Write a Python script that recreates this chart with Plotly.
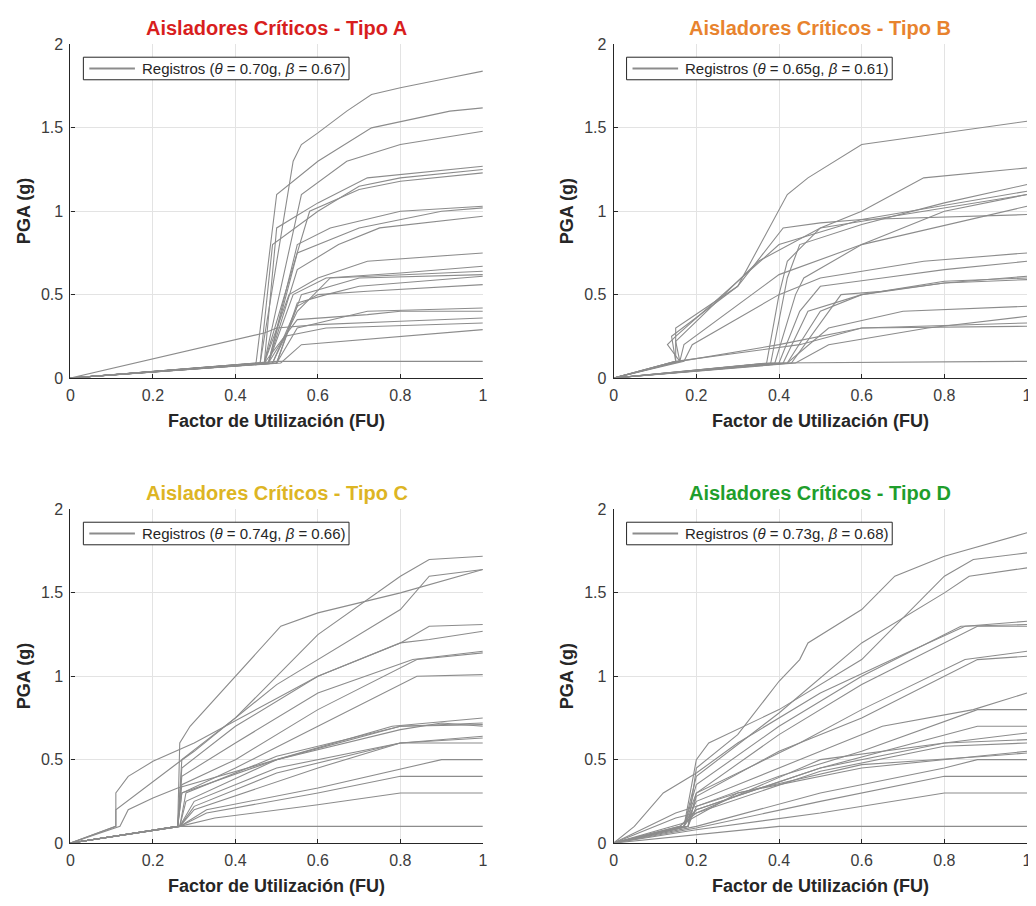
import plotly.graph_objects as go

W, H = 1036, 906
OFF = 8                      # default page (body) margin of the html page
FW, FH = W - OFF, H - OFF    # figure size so that it fits the window exactly

# ---------------- data ----------------
PANEL_TITLES = ["Aisladores Críticos - Tipo A", "Aisladores Críticos - Tipo B",
                "Aisladores Críticos - Tipo C", "Aisladores Críticos - Tipo D"]
TITLE_COLORS = ["#D81E1E", "#E8832E", "#DDB524", "#1F9E2C"]
THETA = ["0.70", "0.65", "0.74", "0.73"]
BETA = ["0.67", "0.61", "0.66", "0.68"]
X_TICKS = [0, 0.2, 0.4, 0.6, 0.8, 1]
Y_TICKS = [0, 0.5, 1, 1.5, 2]

A_X = [
    [0, 0.46, 0.54, 0.56, 0.60, 0.67, 0.73, 0.80, 0.92, 1],
    [0, 0.45, 0.50, 0.60, 0.73, 0.92, 1],
    [0, 0.47, 0.56, 0.67, 0.80, 1],
    [0, 0.47, 0.50, 0.60, 0.72, 1],
    [0, 0.46, 0.49, 0.60, 0.70, 0.80, 1],
    [0, 0.47, 0.58, 0.70, 0.80, 1],
    [0, 0.48, 0.55, 0.63, 0.80, 1],
    [0, 0.48, 0.55, 0.70, 0.90, 1],
    [0, 0.48, 0.55, 0.65, 0.75, 1],
    [0, 0.47, 0.53, 0.60, 0.72, 1],
    [0, 0.48, 0.54, 0.62, 0.80, 1],
    [0, 0.49, 0.55, 0.63, 1],
    [0, 0.50, 0.56, 0.70, 1],
    [0, 0.50, 0.55, 0.62, 0.70, 1],
    [0, 0.49, 0.55, 0.60, 0.72, 1],
    [0, 0.50, 0.55, 0.72, 1],
    [0, 0.47, 0.55, 0.72, 0.80, 1],
    [0, 0.47, 0.50, 0.60, 0.80, 1],
    [0, 0.51, 0.56, 0.80, 1],
    [0, 0.45, 0.50, 1],
    [0, 0.48, 0.52, 0.62, 1],
]
A_Y = [
    [0, 0.09, 1.30, 1.40, 1.47, 1.60, 1.70, 1.74, 1.80, 1.84],
    [0, 0.09, 1.10, 1.30, 1.50, 1.60, 1.62],
    [0, 0.09, 1.10, 1.30, 1.40, 1.48],
    [0, 0.09, 0.90, 1.05, 1.20, 1.27],
    [0, 0.09, 0.80, 1.00, 1.15, 1.20, 1.25],
    [0, 0.09, 1.00, 1.13, 1.18, 1.23],
    [0, 0.09, 0.80, 0.90, 1.00, 1.03],
    [0, 0.09, 0.75, 0.90, 1.00, 1.02],
    [0, 0.09, 0.65, 0.80, 0.90, 0.97],
    [0, 0.09, 0.50, 0.60, 0.70, 0.75],
    [0, 0.09, 0.50, 0.60, 0.63, 0.67],
    [0, 0.09, 0.40, 0.60, 0.64],
    [0, 0.09, 0.50, 0.60, 0.62],
    [0, 0.09, 0.45, 0.50, 0.55, 0.61],
    [0, 0.09, 0.43, 0.50, 0.52, 0.56],
    [0, 0.09, 0.30, 0.40, 0.42],
    [0, 0.09, 0.35, 0.38, 0.40, 0.40],
    [0, 0.27, 0.30, 0.32, 0.34, 0.36],
    [0, 0.09, 0.20, 0.25, 0.29],
    [0, 0.09, 0.10, 0.10],
    [0, 0.09, 0.25, 0.30, 0.33],
]

B_X = [
    [0, 0.15, 0.15, 0.30, 0.42, 0.47, 0.60, 1],
    [0, 0.15, 0.14, 0.30, 0.41, 0.50, 0.60, 1],
    [0, 0.16, 0.15, 0.35, 0.50, 0.75, 1],
    [0, 0.16, 0.13, 0.15, 0.40, 0.60, 1],
    [0, 0.17, 0.19, 0.40, 0.50, 0.75, 1],
    [0, 0.16, 0.17, 0.40, 0.60, 1],
    [0, 0.37, 0.40, 0.42, 0.50, 0.60, 0.75, 1],
    [0, 0.38, 0.42, 0.45, 0.60, 0.80, 1],
    [0, 0.39, 0.44, 0.46, 0.60, 0.80, 1],
    [0, 0.40, 0.45, 0.50, 0.65, 0.80, 1],
    [0, 0.41, 0.47, 0.60, 0.80, 1],
    [0, 0.42, 0.50, 0.60, 0.80, 1],
    [0, 0.43, 0.55, 0.65, 0.80, 1],
    [0, 0.42, 0.52, 0.70, 1],
    [0, 0.16, 0.40, 0.60, 1],
    [0, 0.15, 0.45, 0.60, 1],
    [0, 0.44, 0.52, 0.76, 1],
    [0, 0.38, 1],
]
B_Y = [
    [0, 0.10, 0.30, 0.55, 1.10, 1.20, 1.40, 1.54],
    [0, 0.10, 0.25, 0.55, 0.90, 0.93, 0.95, 0.98],
    [0, 0.10, 0.22, 0.70, 0.90, 1.00, 1.10],
    [0, 0.10, 0.20, 0.25, 0.80, 0.95, 1.12],
    [0, 0.10, 0.20, 0.50, 0.60, 0.70, 0.75],
    [0, 0.10, 0.20, 0.62, 0.80, 1.03],
    [0, 0.09, 0.50, 0.70, 0.90, 1.00, 1.20, 1.26],
    [0, 0.09, 0.60, 0.80, 0.92, 1.05, 1.16],
    [0, 0.09, 0.50, 0.60, 0.80, 1.00, 1.10],
    [0, 0.09, 0.40, 0.55, 0.60, 0.65, 0.70],
    [0, 0.09, 0.40, 0.50, 0.57, 0.61],
    [0, 0.09, 0.40, 0.50, 0.58, 0.60],
    [0, 0.09, 0.50, 0.52, 0.57, 0.59],
    [0, 0.09, 0.30, 0.40, 0.43],
    [0, 0.10, 0.20, 0.30, 0.33],
    [0, 0.10, 0.20, 0.30, 0.31],
    [0, 0.09, 0.20, 0.30, 0.37],
    [0, 0.09, 0.10],
]

C_X = [
    [0, 0.11, 0.11, 0.14, 0.20, 0.30, 0.60, 0.80, 0.87, 1],
    [0, 0.11, 0.11, 0.20, 0.26, 0.30, 0.50, 0.80, 0.87, 1],
    [0, 0.12, 0.14, 0.20, 0.26, 0.50, 0.80, 1],
    [0, 0.26, 0.265, 0.29, 0.51, 0.60, 0.80, 0.87, 1],
    [0, 0.26, 0.27, 0.40, 0.60, 0.80, 0.87, 1],
    [0, 0.26, 0.27, 0.40, 0.60, 0.80, 0.87, 1],
    [0, 0.26, 0.27, 0.40, 0.60, 0.83, 1],
    [0, 0.26, 0.27, 0.40, 0.60, 0.84, 1],
    [0, 0.26, 0.27, 0.40, 0.60, 0.80, 0.84, 1],
    [0, 0.26, 0.27, 0.50, 0.78, 1],
    [0, 0.265, 0.28, 0.50, 0.80, 0.90, 1],
    [0, 0.265, 0.30, 0.50, 0.80, 1],
    [0, 0.265, 0.30, 0.50, 0.80, 1],
    [0, 0.265, 0.30, 0.60, 0.80, 1],
    [0, 0.265, 0.33, 0.60, 0.90, 1],
    [0, 0.265, 0.33, 0.60, 0.80, 1],
    [0, 0.265, 0.35, 0.60, 0.80, 1],
    [0, 0.26, 1],
    [0, 0.265, 0.28, 0.50, 0.80, 1],
]
C_Y = [
    [0, 0.10, 0.30, 0.40, 0.49, 0.60, 1.00, 1.20, 1.30, 1.31],
    [0, 0.10, 0.20, 0.37, 0.48, 0.55, 0.95, 1.40, 1.60, 1.64],
    [0, 0.10, 0.20, 0.27, 0.33, 0.50, 0.70, 0.72],
    [0, 0.10, 0.60, 0.70, 1.30, 1.38, 1.50, 1.55, 1.64],
    [0, 0.10, 0.50, 0.75, 1.25, 1.60, 1.70, 1.72],
    [0, 0.10, 0.45, 0.70, 1.00, 1.20, 1.22, 1.27],
    [0, 0.10, 0.40, 0.60, 0.90, 1.10, 1.15],
    [0, 0.10, 0.35, 0.50, 0.80, 1.10, 1.14],
    [0, 0.10, 0.30, 0.45, 0.70, 0.95, 1.00, 1.01],
    [0, 0.10, 0.30, 0.50, 0.70, 0.75],
    [0, 0.10, 0.25, 0.50, 0.68, 0.72, 0.70],
    [0, 0.10, 0.25, 0.45, 0.60, 0.64],
    [0, 0.10, 0.22, 0.42, 0.60, 0.63],
    [0, 0.10, 0.20, 0.45, 0.60, 0.60],
    [0, 0.10, 0.20, 0.33, 0.50, 0.50],
    [0, 0.10, 0.18, 0.30, 0.40, 0.40],
    [0, 0.10, 0.15, 0.23, 0.30, 0.30],
    [0, 0.10, 0.10],
    [0, 0.10, 0.30, 0.52, 0.70, 0.71],
]

D_X = [
    [0, 0.18, 0.20, 0.30, 0.40, 0.45, 0.47, 0.60, 0.68, 0.80, 1],
    [0, 0.17, 0.20, 0.23, 0.40, 0.60, 0.80, 0.87, 1],
    [0, 0.17, 0.20, 0.40, 0.60, 0.80, 0.86, 1],
    [0, 0.05, 0.12, 0.20, 0.30, 0.50, 0.70, 0.85, 1],
    [0, 0.17, 0.20, 0.40, 0.60, 0.84, 1],
    [0, 0.17, 0.20, 0.40, 0.60, 0.88, 1],
    [0, 0.18, 0.20, 0.45, 0.60, 0.85, 1],
    [0, 0.18, 0.20, 0.40, 0.60, 0.88, 1],
    [0, 0.17, 0.20, 0.40, 0.65, 0.87, 1],
    [0, 0.18, 0.20, 0.40, 0.60, 0.88, 1],
    [0, 0.17, 0.20, 0.50, 0.88, 1],
    [0, 0.16, 0.20, 0.50, 0.80, 1],
    [0, 0.16, 0.20, 0.50, 0.80, 1],
    [0, 0.15, 0.20, 0.50, 0.80, 1],
    [0, 0.17, 0.30, 0.60, 0.88, 1],
    [0, 0.15, 0.30, 0.60, 0.90, 1],
    [0, 0.20, 0.50, 0.80, 0.88, 1],
    [0, 0.20, 0.50, 0.80, 1],
    [0, 0.20, 0.50, 0.80, 1],
    [0, 0.20, 0.40, 1],
]
D_Y = [
    [0, 0.10, 0.45, 0.65, 0.97, 1.10, 1.20, 1.40, 1.60, 1.72, 1.86],
    [0, 0.10, 0.50, 0.60, 0.80, 1.10, 1.60, 1.70, 1.74],
    [0, 0.10, 0.40, 0.78, 1.20, 1.50, 1.60, 1.65],
    [0, 0.10, 0.30, 0.42, 0.60, 0.90, 1.13, 1.30, 1.33],
    [0, 0.10, 0.35, 0.70, 1.00, 1.30, 1.31],
    [0, 0.10, 0.30, 0.65, 0.95, 1.30, 1.30],
    [0, 0.10, 0.30, 0.60, 0.80, 1.10, 1.15],
    [0, 0.10, 0.28, 0.55, 0.75, 1.10, 1.12],
    [0, 0.10, 0.25, 0.45, 0.70, 0.80, 0.90],
    [0, 0.10, 0.22, 0.40, 0.55, 0.80, 0.80],
    [0, 0.10, 0.20, 0.45, 0.70, 0.70],
    [0, 0.10, 0.20, 0.45, 0.60, 0.66],
    [0, 0.10, 0.18, 0.50, 0.60, 0.62],
    [0, 0.15, 0.18, 0.43, 0.58, 0.60],
    [0, 0.12, 0.30, 0.45, 0.52, 0.55],
    [0, 0.18, 0.30, 0.47, 0.52, 0.54],
    [0, 0.10, 0.30, 0.45, 0.50, 0.50],
    [0, 0.09, 0.25, 0.40, 0.40],
    [0, 0.08, 0.18, 0.30, 0.30],
    [0, 0.05, 0.10, 0.10],
]

PANELS = [(A_X, A_Y), (B_X, B_Y), (C_X, C_Y), (D_X, D_Y)]

# ---------------- layout geometry (window pixels) ----------------
PLOT_LEFT = [67, 615, 67, 615]
PLOT_RIGHT = [483, 1032, 483, 1032]
PLOT_TOP = [37, 37, 511, 511]
PLOT_BOTTOM = [377, 377, 851, 851]


def fx(px):
    return (px - OFF) / FW


def fy(py):
    return 1 - (py - OFF) / FH


LINE_COLOR = "#8c8c8c"
AX_COLOR = "#262626"
FONT = "Liberation Sans, Arial, Helvetica, sans-serif"

fig = go.Figure()
layout = dict(
    width=FW, height=FH, margin=dict(l=0, r=0, t=0, b=0),
    paper_bgcolor="white", plot_bgcolor="white",
    font=dict(family=FONT, color=AX_COLOR),
    showlegend=False,
)
annotations = []
shapes = []

for i, (xs, ys) in enumerate(PANELS):
    k = i + 1
    xa = "x" if k == 1 else f"x{k}"
    ya = "y" if k == 1 else f"y{k}"
    label = f"Registros (<i>θ</i> = {THETA[i]}g, <i>β</i> = {BETA[i]})"
    for j, (xv, yv) in enumerate(zip(xs, ys)):
        fig.add_trace(go.Scatter(
            x=xv, y=yv, mode="lines", xaxis=xa, yaxis=ya,
            line=dict(color=LINE_COLOR, width=1.1),
            name=label, hoverinfo="skip",
        ))
    L, R, T, B = PLOT_LEFT[i], PLOT_RIGHT[i], PLOT_TOP[i], PLOT_BOTTOM[i]
    axcommon = dict(showgrid=True, gridcolor="#e3e3e3", gridwidth=1,
                    zeroline=False, showline=True, linecolor=AX_COLOR, linewidth=1.2,
                    ticks="inside", ticklen=4, tickcolor=AX_COLOR,
                    tickfont=dict(size=16, color="#3c3c3c", family=FONT))
    layout[("xaxis" if k == 1 else f"xaxis{k}")] = dict(
        domain=[fx(L), fx(R)], anchor=ya, range=[0, 1], tickvals=X_TICKS,
        ticktext=[f"{v:g}" for v in X_TICKS], ticklabelstandoff=3, **axcommon)
    layout[("yaxis" if k == 1 else f"yaxis{k}")] = dict(
        domain=[fy(B), fy(T)], anchor=xa, range=[0, 2], tickvals=Y_TICKS,
        ticktext=[f"{v:g}" for v in Y_TICKS], ticklabelstandoff=3, **axcommon)

    # legend box (one entry, like the original figure)
    lx0, lx1 = L + 13, L + 281
    ly0, ly1 = T + 13, T + 36
    lym = (ly0 + ly1) / 2
    shapes.append(dict(type="rect", xref="paper", yref="paper",
                       x0=fx(lx0), x1=fx(lx1), y0=fy(ly1), y1=fy(ly0),
                       line=dict(color=AX_COLOR, width=1), fillcolor="white"))
    shapes.append(dict(type="line", xref="paper", yref="paper",
                       x0=fx(lx0 + 6), x1=fx(lx0 + 52), y0=fy(lym), y1=fy(lym),
                       line=dict(color=LINE_COLOR, width=2)))
    annotations.append(dict(
        text=label, x=fx(lx0 + 57), y=fy(lym), xref="paper", yref="paper",
        xanchor="left", yanchor="middle", showarrow=False,
        font=dict(size=15, color=AX_COLOR, family=FONT)))

    cx = fx((L + R) / 2)
    # panel title
    annotations.append(dict(
        text=f"<b>{PANEL_TITLES[i]}</b>", x=cx, y=fy(T - 17),
        xref="paper", yref="paper", xanchor="center", yanchor="middle",
        showarrow=False, font=dict(size=20, color=TITLE_COLORS[i], family=FONT)))
    # x-axis title
    annotations.append(dict(
        text="<b>Factor de Utilización (FU)</b>", x=cx, y=fy(B + 44),
        xref="paper", yref="paper", xanchor="center", yanchor="middle",
        showarrow=False, font=dict(size=18, color=AX_COLOR, family=FONT)))
    # y-axis title
    annotations.append(dict(
        text="<b>PGA (g)</b>", x=fx(L - 47), y=fy((T + B) / 2),
        xref="paper", yref="paper", xanchor="center", yanchor="middle",
        textangle=-90, showarrow=False,
        font=dict(size=18, color=AX_COLOR, family=FONT)))

layout["annotations"] = annotations
layout["shapes"] = shapes
fig.update_layout(**layout)
fig.write_html("out.html")
